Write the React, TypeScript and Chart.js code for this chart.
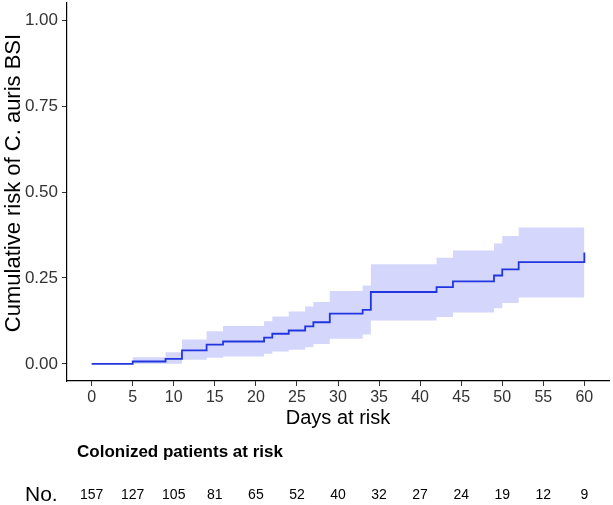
import React, { useEffect, useRef } from 'react';
import { Chart, registerables } from 'chart.js';

Chart.register(...registerables);

// Kaplan-Meier style cumulative risk (step changes at each day)
const lineDays = [0, 5, 9, 11, 14, 16, 21, 22, 24, 26, 27, 29, 33, 34, 42, 44, 49, 50, 52, 60];
const lineRisk = [0, 0.0067, 0.0146, 0.039, 0.056, 0.065, 0.076, 0.0875, 0.097, 0.109, 0.121, 0.146, 0.157, 0.209, 0.223, 0.24, 0.257, 0.275, 0.296, 0.324];

// Confidence band
const bandDays = [5, 9, 11, 14, 16, 21, 22, 24, 26, 27, 29, 33, 34, 42, 44, 49, 50, 52, 60];
const bandUpper = [0.019, 0.034, 0.071, 0.095, 0.11, 0.124, 0.138, 0.152, 0.167, 0.18, 0.212, 0.228, 0.29, 0.309, 0.33, 0.35, 0.372, 0.397, 0.397];
const bandLower = [0, 0, 0.012, 0.018, 0.021, 0.029, 0.036, 0.041, 0.048, 0.058, 0.073, 0.085, 0.126, 0.136, 0.149, 0.162, 0.177, 0.193, 0.193];

const xTicks = [0, 5, 10, 15, 20, 25, 30, 35, 40, 45, 50, 55, 60];
const yTicks = [0, 0.25, 0.5, 0.75, 1];

const atRiskDays = [0, 5, 10, 15, 20, 25, 30, 35, 40, 45, 50, 55, 60];
const atRiskCounts = [157, 127, 105, 81, 65, 52, 40, 32, 27, 24, 19, 12, 9];

const tableTitle = 'Colonized patients at risk';
const rowLabel = 'No.';
const xTitle = 'Days at risk';
const yTitle = 'Cumulative risk of C. auris BSI';

const FONT = 'Arial, "Liberation Sans", Helvetica, sans-serif';
const LINE_COLOR = '#2236e0';
const BAND_COLOR = '#d4d6fb';

const riskTablePlugin = {
  id: 'riskTable',
  afterDraw(chart: any) {
    const ctx = chart.ctx;
    const xs = chart.scales.x;
    ctx.save();
    ctx.fillStyle = '#000';
    ctx.textBaseline = 'middle';
    ctx.textAlign = 'left';
    ctx.font = `bold 17px ${FONT}`;
    ctx.fillText(tableTitle, 77, 452);
    ctx.font = `21px ${FONT}`;
    ctx.fillText(rowLabel, 25, 495);
    ctx.font = `14px ${FONT}`;
    ctx.textAlign = 'center';
    atRiskDays.forEach((d, i) => {
      ctx.fillText(String(atRiskCounts[i]), xs.getPixelForValue(d), 495);
    });
    // y-axis title
    ctx.save();
    ctx.translate(14, 183);
    ctx.rotate(-Math.PI / 2);
    ctx.font = `22px ${FONT}`;
    ctx.textAlign = 'center';
    ctx.textBaseline = 'middle';
    ctx.fillText(yTitle, 0, 0);
    ctx.restore();
    ctx.restore();
  },
};

export default function App() {
  const ref = useRef<HTMLCanvasElement | null>(null);

  useEffect(() => {
    if (!ref.current) return;
    const chart = new Chart(ref.current, {
      type: 'line',
      data: {
        datasets: [
          {
            label: 'risk',
            data: lineDays.map((d, i) => ({ x: d, y: lineRisk[i] })),
            borderColor: LINE_COLOR,
            borderWidth: 1.8,
            pointRadius: 0,
            stepped: 'before',
            fill: false,
            order: 0,
          },
          {
            label: 'upper',
            data: bandDays.map((d, i) => ({ x: d, y: bandUpper[i] })),
            borderWidth: 0,
            borderColor: 'rgba(0,0,0,0)',
            backgroundColor: BAND_COLOR,
            pointRadius: 0,
            stepped: 'before',
            fill: '+1',
            order: 1,
          },
          {
            label: 'lower',
            data: bandDays.map((d, i) => ({ x: d, y: bandLower[i] })),
            borderWidth: 0,
            borderColor: 'rgba(0,0,0,0)',
            backgroundColor: BAND_COLOR,
            pointRadius: 0,
            stepped: 'before',
            fill: false,
            order: 2,
          },
        ],
      },
      options: {
        animation: false,
        responsive: false,
        devicePixelRatio: 1,
        layout: { padding: { left: 0, right: 4, top: 3, bottom: 79 } },
        plugins: {
          legend: { display: false },
          tooltip: { enabled: false },
        },
        scales: {
          x: {
            type: 'linear',
            min: -3,
            max: 63,
            afterBuildTicks: (s: any) => {
              s.ticks = xTicks.map((v) => ({ value: v }));
            },
            afterFit: (s: any) => {
              s.height = 45;
              s.paddingLeft = 0;
              s.paddingRight = 0;
            },
            grid: {
              display: true,
              drawOnChartArea: false,
              drawTicks: true,
              tickLength: 5,
              tickColor: '#333',
              tickWidth: 1,
            },
            border: { display: true, color: '#000', width: 1.2 },
            ticks: {
              color: '#333',
              font: { size: 16, family: FONT },
              padding: 2,
              maxRotation: 0,
              autoSkip: false,
            },
            title: {
              display: true,
              text: xTitle,
              color: '#000',
              font: { size: 20, family: FONT },
              padding: { top: 0, bottom: -4 },
            },
          },
          y: {
            type: 'linear',
            min: -0.05,
            max: 1.05,
            afterBuildTicks: (s: any) => {
              s.ticks = yTicks.map((v) => ({ value: v }));
            },
            afterFit: (s: any) => {
              s.width = 67;
              s.paddingTop = 0;
              s.paddingBottom = 0;
            },
            grid: {
              display: true,
              drawOnChartArea: false,
              drawTicks: true,
              tickLength: 5,
              tickColor: '#333',
              tickWidth: 1,
            },
            border: { display: true, color: '#000', width: 1.2 },
            ticks: {
              color: '#333',
              font: { size: 17, family: FONT },
              padding: 4,
              callback: (v: any) => Number(v).toFixed(2),
            },
            title: { display: false },
          },
        },
      },
      plugins: [riskTablePlugin],
    } as any);
    return () => chart.destroy();
  }, []);

  return (
    <div style={{ position: 'fixed', left: 0, top: 0, width: 613, height: 505, background: '#fff' }}>
      <canvas ref={ref} width={613} height={505} style={{ display: 'block' }} />
    </div>
  );
}
